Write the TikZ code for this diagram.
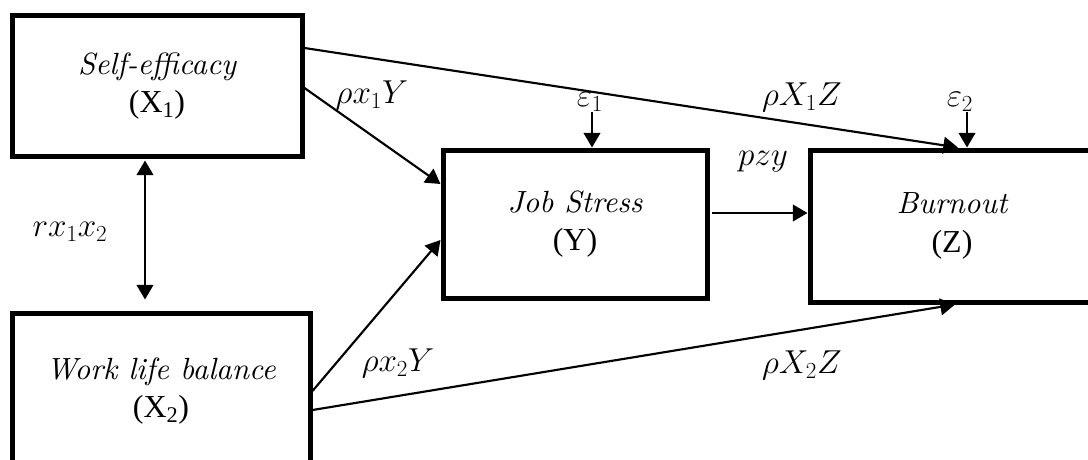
\documentclass[tikz,border=0pt]{standalone}
\usepackage{fontspec}
\setmainfont{Liberation Serif}
\newfontfamily\titfont{lmroman10-italic.otf}
\usetikzlibrary{arrows.meta,calc}
\tikzset{
  boxnode/.style={draw, line width=3.75pt, align=center, inner sep=0pt,
    font=\fontsize{24}{29}\selectfont},
  conn/.style={line width=1.6pt, -{Triangle[length=11pt,width=12.5pt]}},
  dconn/.style={line width=1.6pt, {Triangle[length=11pt,width=12.5pt]}-{Triangle[length=11pt,width=12.5pt]}},
  lbl/.style={font=\fontsize{25}{28}\selectfont, inner sep=0pt}
}
\newcommand{\boxtitle}[1]{{\titfont\fontsize{23}{29}\selectfont #1}}
\begin{document}
\begin{tikzpicture}[x=0.75pt,y=-0.75pt]
\useasboundingbox (0,0) rectangle (1088,460);
\clip (0,0) rectangle (1088,460);
\fill[white] (0,0) rectangle (1088,460);
% boxes
\node[boxnode, minimum width=217.5pt, minimum height=105pt] (X1) at (157,86) {\boxtitle{Self-efficacy}\\(X\textsubscript{1})};
\node[boxnode, minimum width=223.5pt, minimum height=117pt] (X2) at (161,391) {\boxtitle{Work life balance}\\(X\textsubscript{2})};
\node[boxnode, minimum width=198pt, minimum height=111pt] (Y) at (575,224) {\boxtitle{Job Stress}\\(Y)};
\node[boxnode, minimum width=213pt, minimum height=114pt] (Z) at (952,226) {\boxtitle{Burnout}\\(Z)};
% error terms
\node[lbl] (e1) at (590,102) {$\varepsilon_1$};
\node[lbl] (e2) at (960,102) {$\varepsilon_2$};
\coordinate (e1s) at (592,112);
\coordinate (e2s) at (967,112);
\draw[conn] (e1s) -- ([xshift=12.75pt]Y.north);
\draw[conn] (e2s) -- ([xshift=11.25pt]Z.north);
% connectors
\draw[conn] ([yshift=28.5pt]X1.east) -- ([xshift=4.5pt]Z.north);
\draw[conn] ([yshift=-1.5pt]X1.east) -- ([yshift=30pt]Y.west);
\draw[conn] (X2.east) -- ([yshift=-12pt]Y.west);
\draw[conn] ([yshift=-14.25pt]X2.east) -- ([xshift=2.25pt]Z.south);
\coordinate (ys) at ([xshift=1.5pt,yshift=8.25pt]Y.east);
\draw[conn] (ys) -- (ys -| Z.west);
\draw[dconn] ([xshift=-9pt,yshift=-1.5pt]X1.south) -- ([xshift=-12pt,yshift=8.25pt]X2.north);
% labels
\node[lbl] (l1) at (372,95) {$\rho x_1 Y$};
\node[lbl] (l2) at (802,97) {$\rho X_1 Z$};
\node[lbl] (l3) at (763,162) {$pzy$};
\node[lbl] (l4) at (70,232) {$r x_1 x_2$};
\node[lbl] (l5) at (398,363) {$\rho x_2 Y$};
\node[lbl] (l6) at (802,365) {$\rho X_2 Z$};
\end{tikzpicture}
\end{document}
